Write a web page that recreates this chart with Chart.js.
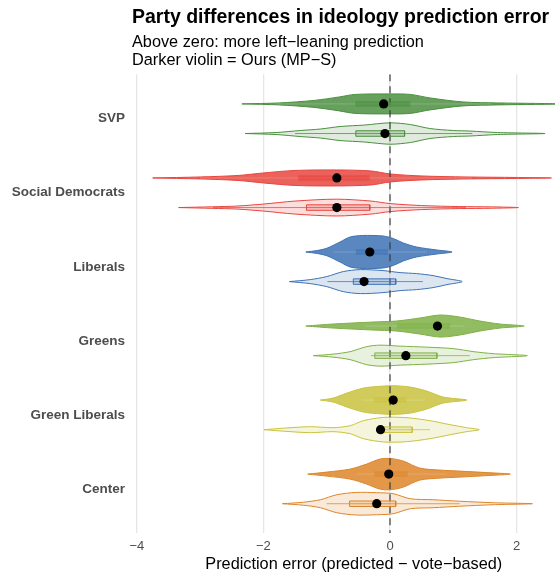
<!DOCTYPE html>
<html>
<head>
<meta charset="utf-8">
<script src="https://cdn.jsdelivr.net/npm/chart.js@4.4.1/dist/chart.umd.min.js"></script>
<style>
  html, body { margin: 0; padding: 0; background: #fff; overflow: hidden; }
  #wrap { width: 577px; height: 576px; }
</style>
</head>
<body>
<div id="wrap"><canvas id="violinChart" width="577" height="576"></canvas></div>
<script>
// Categories (top to bottom)
const parties = ['SVP', 'Social Democrats', 'Liberals', 'Greens', 'Green Liberals', 'Center'];
const xTicks = [-4, -2, 0, 2];

// Ours (MP-S): darker violins. Density profiles
const oursGrid = [
    [-2.34, -1.75, -1.2, -0.8, -0.55, 0, 0.32, 0.63, 1.15, 1.7, 2.3, 2.8],
    [-3.75, -3.0, -2.4, -2.0, -1.5, -0.85, -0.3, 0, 0.5, 1.2, 2.0, 2.55],
    [-1.33, -1.15, -1.0, -0.79, -0.63, -0.43, -0.11, 0.05, 0.21, 0.42, 0.74, 0.98],
    [-1.33, -0.9, -0.27, 0.1, 0.47, 0.79, 1.1, 1.42, 1.74, 2.12],
    [-1.1, -0.9, -0.68, -0.42, -0.21, 0.05, 0.32, 0.58, 0.84, 1.21],
    [-1.3, -1.0, -0.63, -0.37, -0.16, 0, 0.21, 0.47, 0.79, 1.1, 1.53, 1.9]
];
const oursDensity = [
    [0, 1, 3.5, 7, 9.5, 10, 9.5, 6, 2, 1, 0.5, 0],
    [0, 1, 2.5, 5, 7.5, 8, 7, 4, 2, 1, 0.5, 0],
    [0, 1.5, 3.7, 10, 15, 16.5, 16, 13.5, 9, 5, 2, 0],
    [0, 2, 4, 5, 8, 11, 9, 5, 2, 0],
    [0, 2, 7, 12, 13.5, 14.3, 13, 9, 3, 0],
    [0, 2, 5, 10, 15, 15.7, 13, 6, 4, 3, 1.5, 0]
];
const oursQ1 = [-0.55, -1.45, -0.54, 0.11, -0.25, -0.25];
const oursQ3 = [0.32, -0.32, -0.03, 0.95, 0.26, 0.28];
const oursMean = [-0.1, -0.84, -0.32, 0.75, 0.05, -0.02];
const oursLow = [-1.8, -3.0, -0.9, -0.39, -0.44, -0.53];
const oursHigh = [1.6, 1.3, 0.58, 1.18, 0.55, 0.9];

// Comparison prediction: lighter violins
const baseGrid = [
    [-2.29, -1.8, -1.42, -1.1, -0.79, -0.4, 0, 0.32, 0.63, 1.0, 1.26, 1.7, 2.45],
    [-3.34, -2.8, -2.42, -2.0, -1.5, -0.85, -0.3, 0, 0.5, 1.1, 1.6, 2.03],
    [-1.59, -1.26, -1.0, -0.74, -0.47, -0.11, 0.16, 0.42, 0.68, 0.9, 1.14],
    [-1.21, -0.9, -0.63, -0.37, -0.16, 0.16, 0.58, 1.0, 1.32, 1.63, 2.17],
    [-1.99, -1.68, -1.26, -0.9, -0.63, -0.42, -0.1, 0.26, 0.63, 0.95, 1.21, 1.41],
    [-1.7, -1.37, -1.1, -0.84, -0.53, -0.21, 0.05, 0.32, 0.68, 1.1, 1.63, 2.25]
];
const baseDensity = [
    [0, 1, 3, 4.5, 7, 8.5, 10.7, 9, 5, 3, 2.5, 1, 0],
    [0, 0.8, 1.5, 3.5, 6.5, 8.4, 6.5, 4, 2, 1, 0.7, 0],
    [0, 2, 5, 10, 12, 11, 9, 8, 6, 3, 0],
    [0, 1.5, 4, 9, 10.5, 9.5, 8.5, 7, 4, 2, 0],
    [0, 1.5, 3, 2, 4, 9, 12.3, 12, 9, 5, 2, 0],
    [0, 1.5, 4, 9, 11.3, 11, 10, 5, 4, 2.5, 1, 0]
];
const baseQ1 = [-0.54, -1.32, -0.58, -0.24, -0.13, -0.64];
const baseQ3 = [0.23, -0.32, 0.09, 0.74, 0.35, 0.09];
const baseMean = [-0.08, -0.84, -0.41, 0.25, -0.15, -0.21];
const baseLow = [-1.5, -2.8, -0.99, -0.3, -0.22, -1.0];
const baseHigh = [1.3, 1.2, 0.52, 1.26, 0.63, 1.1];

// Styles
const partyColors = ['#4b8f3f', '#e8453e', '#3d72b4', '#7fb046', '#c9c23e', '#dd8529'];
const DENS = 1 / 74;     // density units -> category units
const DODGE = 0.2;
const BOX_H = 0.037;

function rgba(hex, a) {
    const n = parseInt(hex.slice(1), 16);
    return `rgba(${n >> 16},${(n >> 8) & 255},${n & 255},${a})`;
}
function lighten(hex, t) {
    const n = parseInt(hex.slice(1), 16);
    const m = c => Math.round(c + (255 - c) * t);
    return `rgb(${m(n >> 16)},${m((n >> 8) & 255)},${m(n & 255)})`;
}

function violinPoints(xs, ws, yc) {
    const upper = xs.map((x, i) => ({ x: x, y: yc - ws[i] * DENS }));
    const lower = xs.map((x, i) => ({ x: x, y: yc + ws[i] * DENS })).reverse();
    return upper.concat(lower.slice(1));
}
function boxPoints(q1, q3, yc) {
    return [
        { x: q1, y: yc - BOX_H }, { x: q3, y: yc - BOX_H },
        { x: q3, y: yc + BOX_H }, { x: q1, y: yc + BOX_H }, { x: q1, y: yc - BOX_H }
    ];
}

const datasets = [];

// Dashed zero line (over the violins, under boxes and dots)
datasets.push({
    data: [{ x: 0, y: 0.4 }, { x: 0, y: 6.6 }],
    showLine: true, borderColor: 'rgba(60,60,60,0.8)', borderWidth: 1.5, borderDash: [7, 5],
    pointRadius: 0, order: 7
});

parties.forEach((p, i) => {
    const col = partyColors[i];
    const groups = [
        { grid: oursGrid, dens: oursDensity, q1: oursQ1, q3: oursQ3, mean: oursMean, lo: oursLow, hi: oursHigh,
          y: i + 1 - DODGE, vFill: rgba(col, 0.85), vLine: col, bFill: rgba(col, 0.6), bLine: 'rgba(0,0,0,0)', wLine: lighten(col, 0.3) },
        { grid: baseGrid, dens: baseDensity, q1: baseQ1, q3: baseQ3, mean: baseMean, lo: baseLow, hi: baseHigh,
          y: i + 1 + DODGE, vFill: rgba(col, 0.18), vLine: col, bFill: rgba(col, 0.22), bLine: col, wLine: rgba(col, 0.75) }
    ];
    groups.forEach(g => {
        datasets.push({
            data: violinPoints(g.grid[i], g.dens[i], g.y),
            showLine: true, fill: 'shape', backgroundColor: g.vFill,
            borderColor: g.vLine, borderWidth: 1, tension: 0.3,
            pointRadius: 0, order: 8
        });
        datasets.push({
            data: [{ x: g.lo[i], y: g.y }, { x: g.hi[i], y: g.y }],
            showLine: true, borderColor: g.wLine, borderWidth: 1,
            pointRadius: 0, order: 6
        });
        datasets.push({
            data: boxPoints(g.q1[i], g.q3[i], g.y),
            showLine: true, fill: 'shape', backgroundColor: g.bFill,
            borderColor: g.bLine, borderWidth: 1, tension: 0,
            pointRadius: 0, order: 4
        });
        datasets.push({
            data: [{ x: g.mean[i], y: g.y }],
            showLine: false, pointRadius: 4.6, pointBackgroundColor: '#000',
            pointBorderWidth: 0, order: 1
        });
    });
});

// Title and subtitle, left-aligned to the panel
const panelTitles = {
    id: 'panelTitles',
    afterDraw(chart) {
        const ctx = chart.ctx;
        const left = chart.chartArea.left;
        ctx.save();
        ctx.fillStyle = '#000';
        ctx.textAlign = 'left';
        ctx.textBaseline = 'alphabetic';
        ctx.font = 'bold 19.5px "Liberation Sans", Arial, sans-serif';
        ctx.fillText('Party differences in ideology prediction error', left + 1.5, 23);
        ctx.font = '16.3px "Liberation Sans", Arial, sans-serif';
        ctx.fillText('Above zero: more left\u2212leaning prediction', left + 1.5, 47);
        ctx.fillText('Darker violin = Ours (MP\u2212S)', left + 1.5, 65);
        ctx.restore();
    }
};

new Chart(document.getElementById('violinChart'), {
    type: 'scatter',
    data: { datasets: datasets },
    plugins: [panelTitles],
    options: {
        responsive: false,
        animation: false,
        events: [],
        layout: { autoPadding: false, padding: { top: 74.3, left: 0, right: 0, bottom: 0 } },
        plugins: { legend: { display: false }, tooltip: { enabled: false } },
        scales: {
            x: {
                type: 'linear',
                min: -4.1,
                max: 2.954,
                afterBuildTicks: axis => { axis.ticks = xTicks.map(v => ({ value: v })); },
                grid: { color: '#e6e6e6', lineWidth: 1.3, drawTicks: false },
                border: { display: false },
                ticks: {
                    color: '#4d4d4d', padding: 5.5,
                    font: { family: '"Liberation Sans", Arial, sans-serif', size: 13 },
                    callback: v => String(v).replace('-', '\u2212')
                },
                title: {
                    display: true,
                    text: 'Prediction error (predicted \u2212 vote\u2212based)',
                    color: '#000',
                    font: { family: '"Liberation Sans", Arial, sans-serif', size: 16.3 },
                    padding: { top: -5.5, bottom: 2 }
                }
            },
            y: {
                type: 'linear',
                reverse: true,
                min: 0.4,
                max: 6.6,
                afterBuildTicks: axis => { axis.ticks = parties.map((p, i) => ({ value: i + 1 })); },
                afterFit: scale => { scale.width = 130.5; },
                grid: { display: false, drawTicks: false },
                border: { display: false },
                ticks: {
                    color: '#4d4d4d', padding: 5.5,
                    font: { family: '"Liberation Sans", Arial, sans-serif', size: 13.5, weight: 'bold' },
                    callback: v => parties[Math.round(v) - 1]
                }
            }
        }
    }
});
</script>
</body>
</html>
